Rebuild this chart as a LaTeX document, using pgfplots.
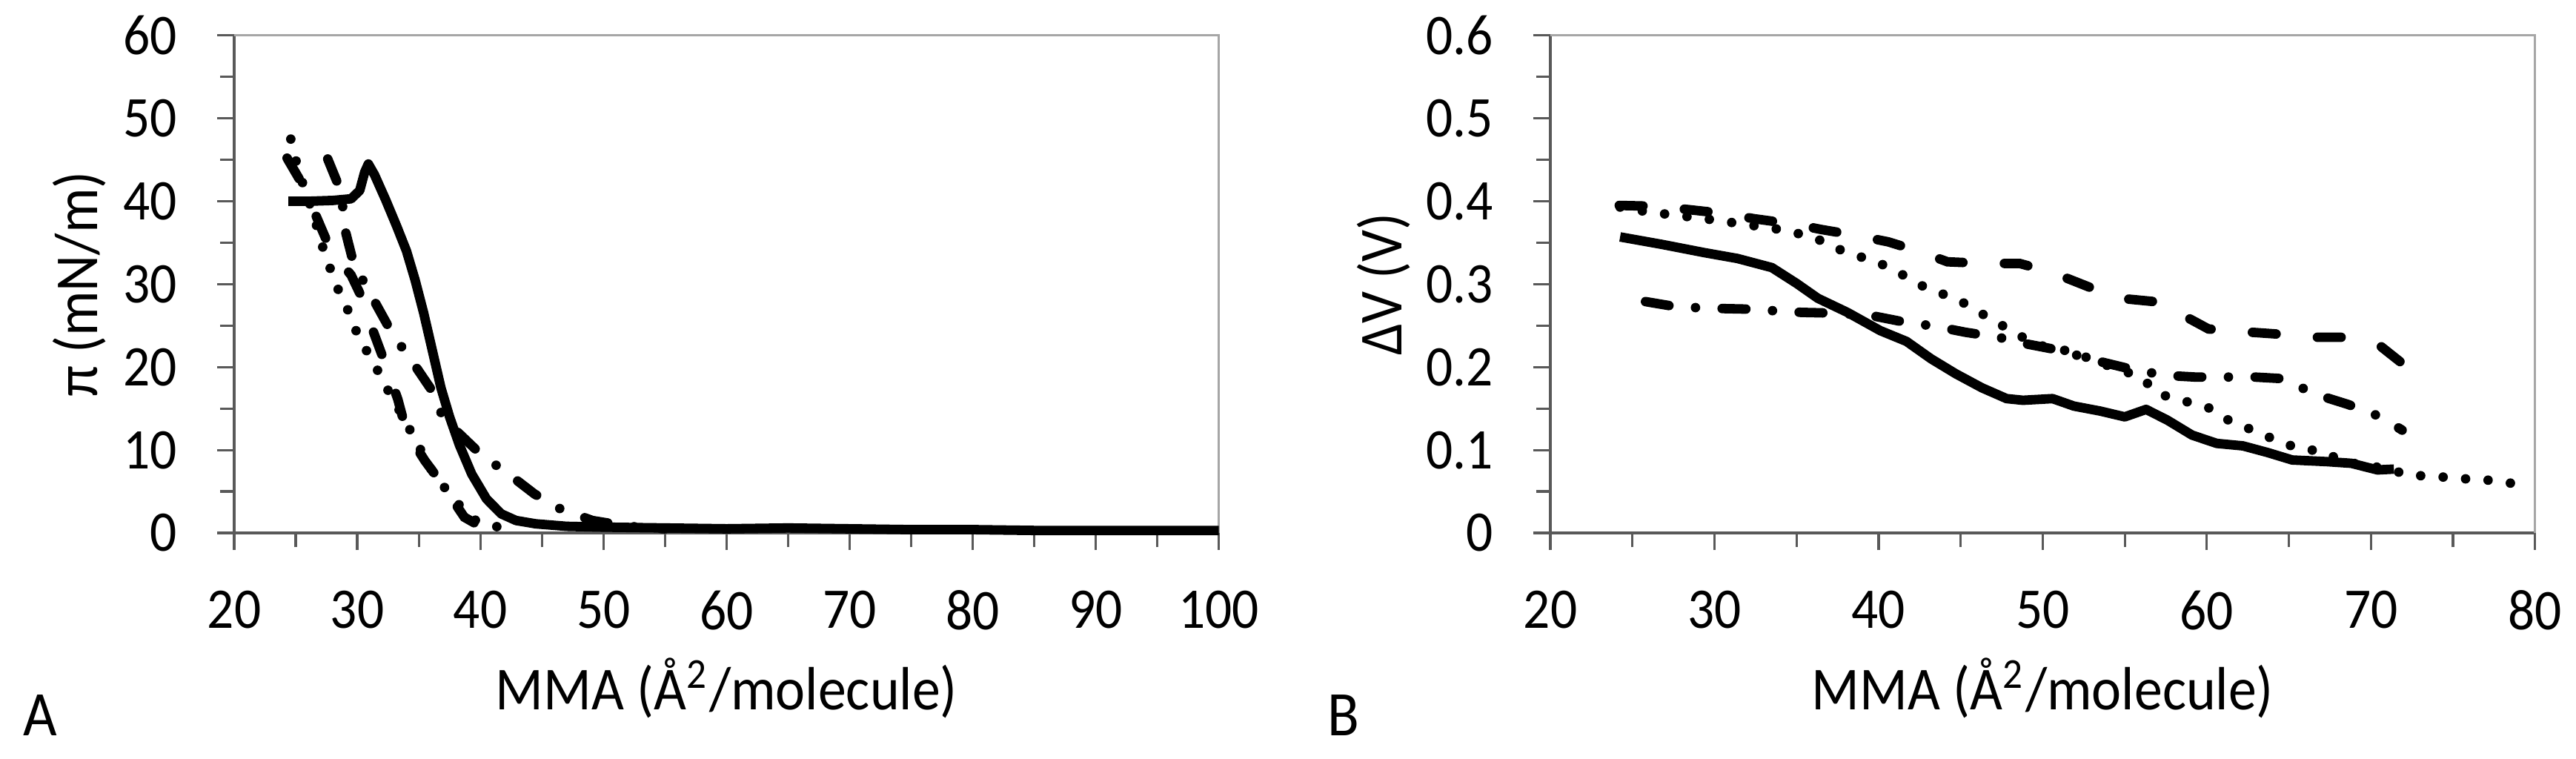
\documentclass[border=0pt]{standalone}
\usepackage{fontspec}
\setmainfont{Carlito}[FakeStretch=0.92]
\usepackage{pgfplots}
\usepackage{pgfplotstable}
\pgfplotsset{compat=1.18}
\definecolor{axdark}{HTML}{595959}
\definecolor{axlight}{HTML}{A6A6A6}

% ---- panel A: surface pressure vs MMA
\pgfplotstableread{
x y
24.4 40.0
26.0 40.0
28.0 40.1
29.5 40.3
30.2 41.3
30.6 43.5
30.9 44.5
31.4 43.2
32.3 40.2
33.2 37.0
34.0 34.0
34.7 30.5
35.4 26.5
36.1 22.0
36.8 17.5
37.5 14.0
38.3 10.6
39.3 7.1
40.5 4.1
41.7 2.3
42.9 1.5
44.5 1.1
47.0 0.8
50.0 0.7
55.0 0.6
60.0 0.5
65.0 0.6
70.0 0.5
75.0 0.4
80.0 0.4
85.0 0.3
90.0 0.3
95.0 0.3
100.0 0.3
}\Asolid
\pgfplotstableread{
x y
24.6 47.5
25.0 45.0
25.6 42.0
26.56 37.85
26.96 35.5
27.46 33.3
28.02 31.0
28.6 28.8
29.33 26.6
29.9 24.4
30.63 22.3
31.41 20.3
32.5 17.2
33.68 14.1
35.95 7.8
36.8 6.0
38.2 3.5
39.7 1.4
42.0 0.5
}\Adot
\pgfplotstableread{
x y
24.3 45.2
25.6 41.9
27.9 33.9
29.5 31.1
30.4 28.3
31.3 24.3
32.3 20.3
33.3 16.1
34.0 12.2
35.5 8.7
36.7 6.3
38.7 1.9
40.0 0.8
42.0 0.5
}\Adash
\pgfplotstableread{
x y
27.6 45.1
28.7 41.1
29.0 36.6
29.7 32.5
31.3 28.2
32.9 23.9
34.5 20.6
36.1 17.1
37.0 13.8
40.1 9.4
42.3 7.1
44.4 4.7
46.5 2.9
49.1 1.5
52.0 0.8
55.0 0.5
}\Adashdot

% ---- panel B: surface potential vs MMA
\pgfplotstableread{
x y
24.25 0.357
26.8 0.348
29.4 0.338
31.4 0.331
33.5 0.320
35.0 0.301
36.3 0.283
38.1 0.266
40.1 0.244
41.7 0.231
43.2 0.210
44.7 0.192
46.3 0.175
47.8 0.162
48.8 0.160
50.6 0.162
51.9 0.153
53.5 0.147
55.0 0.140
56.3 0.149
57.6 0.136
59.1 0.118
60.6 0.108
62.2 0.105
63.7 0.097
65.2 0.088
67.3 0.086
68.8 0.084
70.4 0.076
71.4 0.077
}\Bsolid
\pgfplotstableread{
x y
24.25 0.393
26.0 0.387
29.4 0.379
31.9 0.372
34.0 0.366
36.0 0.357
37.6 0.342
38.9 0.333
40.1 0.325
41.9 0.307
43.0 0.294
44.7 0.283
46.5 0.262
48.6 0.238
49.6 0.227
51.9 0.218
53.5 0.205
56.0 0.188
57.0 0.168
60.1 0.151
61.1 0.138
62.9 0.123
64.2 0.112
65.7 0.101
67.0 0.099
68.3 0.086
71.1 0.077
72.4 0.069
73.7 0.069
75.0 0.066
77.0 0.064
79.3 0.058
}\Bdot
\pgfplotstableread{
x y
24.2 0.395
26.3 0.394
28.4 0.390
30.7 0.385
32.4 0.379
35.0 0.372
36.5 0.366
38.6 0.359
40.6 0.351
42.4 0.340
44.2 0.327
46.5 0.325
48.6 0.325
50.6 0.314
52.9 0.296
54.7 0.283
56.8 0.279
58.6 0.262
60.1 0.246
62.0 0.243
64.2 0.240
66.0 0.236
68.3 0.236
70.6 0.225
72.0 0.203
}\Bdash
\pgfplotstableread{
x y
25.8 0.279
27.6 0.273
29.6 0.271
31.9 0.270
35.3 0.266
37.5 0.265
39.6 0.262
41.4 0.255
43.5 0.249
45.3 0.242
47.3 0.236
49.0 0.228
51.1 0.220
53.0 0.209
55.5 0.197
57.5 0.190
59.3 0.188
60.9 0.188
62.9 0.188
64.7 0.186
66.5 0.168
68.6 0.155
70.6 0.140
71.9 0.124
}\Bdashdot

\pgfplotsset{
  panel/.style={
    scale only axis, width=166.1pt, height=83.9pt,
    anchor=south west, clip=false,
    axis x line*=bottom, axis y line*=left,
    axis line style={axdark, line width=0.4pt},
    every tick/.style={axdark, line width=0.4pt},
    tick align=outside,
    major tick length=2.9pt, minor tick length=2.4pt,
    minor x tick num=1, minor y tick num=1,
    /pgf/number format/assume math mode=true,
    tick label style={font=\fontsize{9.7}{11}\selectfont},
    xticklabel style={anchor=north, yshift=-3.3pt},
    yticklabel style={anchor=east, xshift=-3.2pt},
    label style={font=\fontsize{10.3}{12}\selectfont},
    xlabel style={at={(axis description cs:0.5,0)}, anchor=center, yshift=-26.2pt},
    ylabel style={at={(axis description cs:0,0.5)}, anchor=center},
    xlabel={MMA (Å\textsuperscript{2}/molecule)},
  },
  solidS/.style={black, line width=1.6pt, line join=round},
  dotS/.style={black, line width=1.6pt, line cap=round, dash pattern=on 0pt off 3.8pt},
  dashS/.style={black, line width=1.6pt, line cap=round, dash pattern=on 4pt off 7pt},
  dashdotS/.style={black, line width=1.6pt, line cap=round, dash pattern=on 4pt off 4.5pt on 0pt off 4.5pt},
}

\begin{document}
\begin{tikzpicture}
\path[use as bounding box] (-39.5pt,-38pt) rectangle (395pt,89.875pt);

\begin{axis}[panel, at={(0pt,0pt)},
  xmin=20, xmax=100, ymin=0, ymax=60,
  xtick={20,30,...,100}, ytick={0,10,...,60},
  ylabel={π (mN/m)}, ylabel style={yshift=26.1pt}]
  \draw[axlight, line width=0.4pt] (rel axis cs:0,1) -- (rel axis cs:1,1) -- (rel axis cs:1,0);
  \addplot[dotS] table[x=x,y=y] {\Adot};
  \addplot[dashS] table[x=x,y=y] {\Adash};
  \addplot[dashdotS] table[x=x,y=y] {\Adashdot};
  \addplot[solidS] table[x=x,y=y] {\Asolid};
  \node[anchor=base west, inner sep=0pt, font=\fontsize{10.7}{12}\selectfont] at (rel axis cs:-0.2152,-0.4069) {A};
\end{axis}

\begin{axis}[panel, at={(222pt,0pt)},
  xmin=20, xmax=80, ymin=0, ymax=0.6,
  xtick={20,30,...,80}, ytick={0,0.1,...,0.6},
  yticklabel style={/pgf/number format/fixed, /pgf/number format/precision=1},
  ylabel={ΔV (V)}, ylabel style={yshift=28.1pt}]
  \draw[axlight, line width=0.4pt] (rel axis cs:0,1) -- (rel axis cs:1,1) -- (rel axis cs:1,0);
  \addplot[dotS] table[x=x,y=y] {\Bdot};
  \addplot[dashS] table[x=x,y=y] {\Bdash};
  \addplot[dashdotS] table[x=x,y=y] {\Bdashdot};
  \addplot[solidS] table[x=x,y=y] {\Bsolid};
  \node[anchor=base west, inner sep=0pt, font=\fontsize{10.7}{12}\selectfont] at (rel axis cs:-0.2272,-0.4069) {B};
\end{axis}
\end{tikzpicture}
\end{document}
